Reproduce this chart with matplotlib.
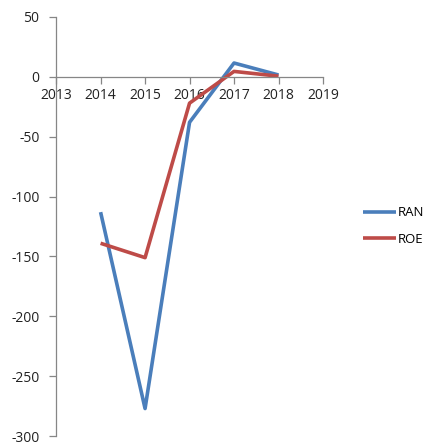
import matplotlib
matplotlib.use("Agg")
import matplotlib.pyplot as plt

years = [2014, 2015, 2016, 2017, 2018]
ran = [-113, -277, -38, 11.5, 1.5]
roe = [-139, -151, -22, 4.5, 0.5]

x_ticks = [2013, 2014, 2015, 2016, 2017, 2018, 2019]
y_ticks = [50, 0, -50, -100, -150, -200, -250, -300]

plt.rcParams["font.family"] = ["Open Sans", "DejaVu Sans"]
plt.rcParams["axes.unicode_minus"] = False

fig = plt.figure(figsize=(4.25, 4.45), dpi=100)
ax = fig.add_axes([0.132, 0.02, 0.628, 0.942])

ax.plot(years, ran, color="#4A7EBB", linewidth=2.6, label="RAN", solid_capstyle="butt")
ax.plot(years, roe, color="#BE4B48", linewidth=2.6, label="ROE", solid_capstyle="butt")

ax.set_xlim(2013, 2019)
ax.set_ylim(-300, 50)
ax.set_xticks(x_ticks)
ax.set_yticks(y_ticks)

axis_grey = "#868686"
ax.spines["top"].set_visible(False)
ax.spines["right"].set_visible(False)
ax.spines["bottom"].set_position(("data", 0))
for s in ("left", "bottom"):
    ax.spines[s].set_color(axis_grey)
    ax.spines[s].set_linewidth(0.9)

ax.tick_params(axis="both", colors=axis_grey, labelcolor="#222222",
               labelsize=10, length=5, width=0.9)
ax.tick_params(axis="y", pad=7)
ax.tick_params(axis="x", pad=3)

handles, labels = ax.get_legend_handles_labels()
fig.legend(handles, labels, loc="center left", bbox_to_anchor=(0.853, 0.492),
           frameon=False, fontsize=9.5, borderpad=0, borderaxespad=0,
           handlelength=2.5, handletextpad=0.2, labelspacing=1.05)

fig.savefig("out.png", dpi=100)
